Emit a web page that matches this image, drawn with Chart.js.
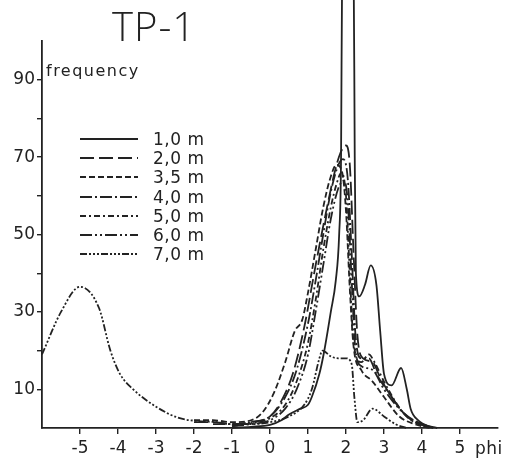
<!DOCTYPE html>
<html>
<head>
<meta charset="utf-8">
<script src="https://cdn.jsdelivr.net/npm/chart.js@4/dist/chart.umd.min.js"></script>
<style>
  html, body { margin: 0; padding: 0; background: #fff; }
  #chart { display: block; }
</style>
</head>
<body>
<canvas id="chart" width="509" height="464"></canvas>
<script>
// depth labels for the legend
const depths = ['1,0 m', '2,0 m', '3,5 m', '4,0 m', '5,0 m', '6,0 m', '7,0 m'];

// tick labels
const xTicks = [-5, -4, -3, -2, -1, 0, 1, 2, 3, 4, 5];
const yTicks = [10, 20, 30, 40, 50, 60, 70, 80, 90];

// grain size (phi) and frequency
const phi10 = [-1, -0.5, 0, 0.3, 0.5, 0.8, 1.0, 1.1, 1.3, 1.42, 1.6, 1.73, 1.82, 1.87, 1.9, 2.05, 2.2, 2.23, 2.26, 2.35, 2.5, 2.65, 2.8, 2.9, 3.0, 3.2, 3.45, 3.6, 3.7, 3.9, 4.3];
const freq10 = [0, 0.3, 0.8, 2, 3.5, 5, 6, 8, 14, 19.5, 30, 38, 50, 70, 120, 125, 120, 70, 40, 34, 37, 42, 37, 25, 14, 11, 15.5, 10, 5, 2, 0];

const phi20 = [-2, -1.5, -1, -0.5, 0, 0.3, 0.6, 0.9, 1.2, 1.5, 1.7, 1.85, 2.0, 2.1, 2.2, 2.3, 2.45, 2.7, 2.9, 3.2, 3.5, 3.8, 4.1, 4.4];
const freq20 = [1.5, 1.5, 1, 1.5, 3, 7, 14, 26, 42, 57, 66, 71, 73, 68, 45, 24, 18, 17, 13, 8, 4, 1.5, 0.5, 0];

const phi35 = [-2, -1.5, -1, -0.5, -0.2, 0.1, 0.4, 0.65, 0.85, 1.0, 1.2, 1.4, 1.6, 1.75, 1.9, 2.0, 2.1, 2.2, 2.4, 2.7, 3.0, 3.4, 3.8, 4.2];
const freq35 = [2, 2, 1.5, 2, 4, 9, 17, 25, 28, 35, 46, 57, 65, 68, 66, 56, 36, 21, 15, 12, 8, 3, 1, 0];

const phi40 = [-1.5, -1, -0.5, 0, 0.4, 0.7, 1.0, 1.2, 1.4, 1.6, 1.8, 1.92, 2.05, 2.15, 2.25, 2.4, 2.6, 2.8, 3.2, 3.6, 4.0, 4.3];
const freq40 = [1, 1, 1.5, 3, 8, 15, 27, 38, 50, 61, 68, 69.5, 64, 45, 24, 18, 18, 14, 8, 3, 1, 0];

const phi50 = [-1, -0.5, 0, 0.4, 0.7, 1.0, 1.2, 1.4, 1.6, 1.75, 1.88, 2.0, 2.1, 2.2, 2.4, 2.6, 2.75, 3.0, 3.5, 3.9, 4.3];
const freq50 = [0.5, 1.2, 2.5, 6, 12, 22, 33, 46, 57, 63, 66, 60, 40, 22, 17, 19, 17, 12, 4, 1, 0];

const phi60 = [-1, -0.5, 0, 0.4, 0.7, 1.0, 1.2, 1.4, 1.6, 1.8, 1.95, 2.05, 2.15, 2.25, 2.4, 2.7, 3.0, 3.5, 4.0, 4.4];
const freq60 = [0.5, 1, 2, 5, 10, 19, 30, 42, 54, 62, 64, 58, 38, 20, 16, 15, 10, 4, 1, 0];

const phi70 = [-6, -5.5, -5, -4.5, -4.2, -3.95, -3.6, -3, -2.4, -1.9, -1.4, -1, -0.5, 0, 0.5, 0.9, 1.1, 1.3, 1.38, 1.6, 1.8, 2.0, 2.15, 2.22, 2.3, 2.45, 2.7, 3.0, 3.3, 3.6];
const freq70 = [19, 30, 36.5, 31, 20, 14, 10, 5.5, 2.6, 1.8, 1.5, 1, 1, 1.5, 3, 6, 10, 18, 20, 18.5, 18, 18, 16.5, 8, 1.5, 2, 5, 3, 1, 0];

const series = [
    [phi10, freq10], [phi20, freq20], [phi35, freq35], [phi40, freq40],
    [phi50, freq50], [phi60, freq60], [phi70, freq70]
];

const dashes = [
    [],
    [14, 5],
    [6, 3],
    [12, 3, 2, 3],
    [6, 3, 2, 3],
    [12, 3, 2, 3, 2, 3],
    [7, 2, 2, 2, 2, 2, 2, 2]
];

const ink = '#222';

const makePoints = (xs, ys) => xs.map((x, i) => ({ x: x, y: ys[i] }));

// title, axis names and the in-plot legend
const annotations = {
    id: 'annotations',
    beforeDraw(chart) {
        const c = chart.ctx;
        c.save();
        c.fillStyle = '#fff';
        c.fillRect(0, 0, chart.width, chart.height);
        c.restore();
    },
    afterDraw(chart) {
        const c = chart.ctx;
        c.save();
        c.fillStyle = ink;
        c.textBaseline = 'alphabetic';
        c.textAlign = 'left';

        c.font = '300 40px "Open Sans"';
        c.letterSpacing = '1px';
        c.fillText('TP-1', 112, 41);

        c.font = '16px "DejaVu Sans"';
        c.letterSpacing = '1.5px';
        c.fillText('frequency', 46, 76);

        c.letterSpacing = '0.5px';
        c.font = '17px "DejaVu Sans"';
        c.fillText('phi', 475, 454);

        const rows = [139, 158, 177, 197, 216, 235, 254];
        chart.data.datasets.forEach((ds, i) => {
            const y = rows[i];
            c.strokeStyle = ink;
            c.lineWidth = 1.8;
            c.setLineDash(ds.borderDash);
            c.beginPath();
            c.moveTo(80, y);
            c.lineTo(138, y);
            c.stroke();
            c.setLineDash([]);
            c.fillText(ds.label, 153, y + 6);
        });
        c.restore();
    }
};

document.addEventListener('DOMContentLoaded', function() {
    const ctx = document.getElementById('chart').getContext('2d');
    const myChart = new Chart(ctx, {
        type: 'line',
        data: {
            datasets: series.map((s, i) => ({
                label: depths[i],
                data: makePoints(s[0], s[1]),
                borderColor: ink,
                borderWidth: 1.8,
                borderDash: dashes[i],
                pointRadius: 0,
                fill: false,
                cubicInterpolationMode: 'monotone',
                clip: false
            }))
        },
        options: {
            responsive: false,
            animation: false,
            devicePixelRatio: 1,
            layout: { padding: { top: 41, right: 11, left: 0, bottom: 0 } },
            plugins: {
                legend: { display: false },
                tooltip: { enabled: false }
            },
            scales: {
                x: {
                    type: 'linear',
                    min: -6,
                    max: 6,
                    afterBuildTicks: scale => { scale.ticks = xTicks.map(v => ({ value: v })); },
                    afterFit: scale => { scale.height = 36; },
                    grid: { drawOnChartArea: false, drawTicks: true, tickLength: 6, color: ink, lineWidth: 1.4 },
                    border: { color: ink, width: 1.8 },
                    ticks: {
                        color: ink,
                        padding: 4,
                        maxRotation: 0,
                        autoSkip: false,
                        font: { family: 'DejaVu Sans', size: 17 },
                        callback: v => String(v)
                    }
                },
                y: {
                    min: 0,
                    max: 100,
                    afterBuildTicks: scale => { scale.ticks = yTicks.map(v => ({ value: v })); },
                    afterFit: scale => { scale.width = 42; },
                    grid: { drawOnChartArea: false, drawTicks: true, tickLength: 5, color: ink, lineWidth: 1.4 },
                    border: { color: ink, width: 1.8 },
                    ticks: {
                        color: ink,
                        padding: 2,
                        autoSkip: false,
                        font: { family: 'DejaVu Sans', size: 17 },
                        callback: v => (v % 20 === 10 ? String(v) : '')
                    }
                }
            }
        },
        plugins: [annotations]
    });
});
</script>
</body>
</html>
